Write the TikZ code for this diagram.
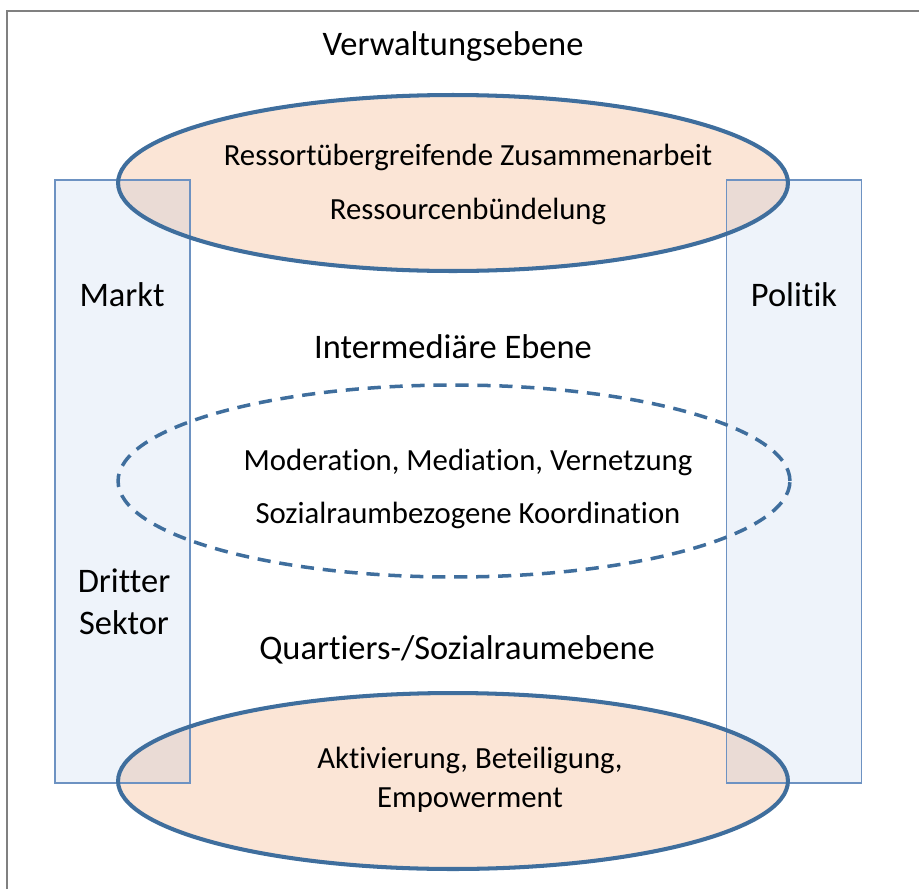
\documentclass[tikz,border=0pt]{standalone}
\usepackage{fontspec}
\setmainfont{Carlito}[RawFeature={-liga;-dlig}]
\usetikzlibrary{shapes.geometric}

\definecolor{peach}{HTML}{FBE5D6}
\definecolor{rand}{HTML}{3F6E9D}
\definecolor{saeule}{HTML}{5587CD}
\definecolor{saeulerand}{HTML}{6D92C2}

\tikzset{
    ebene/.style={ellipse, fill=peach, inner sep=0pt, minimum width=13.4cm, minimum height=3.52cm},
    ebenerand/.style={ellipse, draw=rand, line width=2.3pt, inner sep=0pt, minimum width=13.4cm, minimum height=3.52cm},
    zwischen/.style={ellipse, draw=rand, line width=2pt, inner sep=0pt, dash pattern=on 7.5pt off 5pt, minimum width=13.44cm, minimum height=3.84cm},
    saeule/.style={draw=saeulerand, line width=0.8pt, fill=saeule, fill opacity=0.1, inner sep=0pt, minimum width=2.7cm, minimum height=12.06cm},
    titel/.style={font=\fontsize{19.6}{24}\selectfont, text=black},
    inhalt/.style={font=\fontsize{17.5}{22.5}\selectfont, text=black, align=center}
}

\begin{document}
\begin{tikzpicture}[x=0.02cm,y=-0.02cm]
        \useasboundingbox (0,0) rectangle (919,889);
        % Rahmen
        \draw[gray, line width=1.2pt] (7,889) -- (7,11) -- (919,11);
        % Ebenen (Flaeche)
        \node[ebene] (verwaltung) at (453,183) {};
        \node[ebene] (quartier) at (453,781) {};
        % Saeulen
        \node[saeule] (markt) at (122.5,481.5) {};
        \node[saeule] (politik) at (794,481.5) {};
        % Ebenen (Rand)
        \node[ebenerand] (verwaltungrand) at (verwaltung.center) {};
        \node[ebenerand] (quartierrand) at (quartier.center) {};
        \node[zwischen] (intermediaer) at (454,481) {};
        % Texte
        \node[titel] (t1) at (453,47) {Verwaltungsebene};
        \node[inhalt] (v1) at (468,157) {Ressortübergreifende Zusammenarbeit};
        \node[inhalt] (v2) at (468,211) {Ressourcenbündelung};
        \node[titel] (t2) at (453,347) {Intermediäre Ebene};
        \node[inhalt] (i1) at (468,462) {Moderation, Mediation, Vernetzung};
        \node[inhalt] (i2) at (468,515) {Sozialraumbezogene Koordination};
        \node[titel] (t3) at (457,650) {Quartiers-/Sozialraumebene};
        \node[inhalt] (q1) at (470,780) {Aktivierung, Beteiligung,\\Empowerment};
        \node[titel] (m) at (122,295) {Markt};
        \node[titel] (p) at (794,295) {Politik};
        \node[titel, align=center] (d) at (124,602) {Dritter\\Sektor};
    \end{tikzpicture}
\end{document}
